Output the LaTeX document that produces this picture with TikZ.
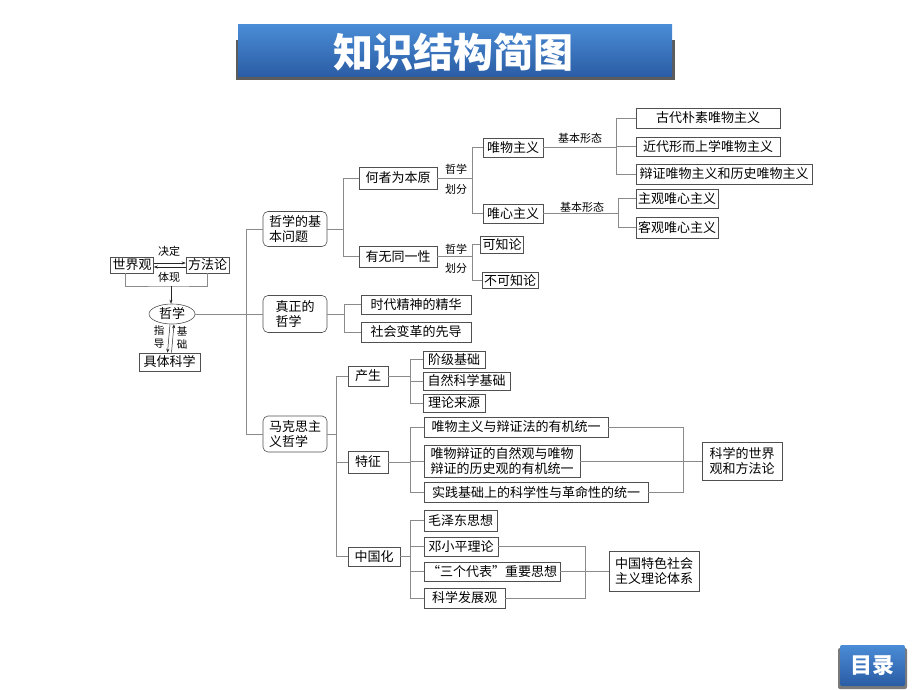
\documentclass[tikz,border=0pt]{standalone}
\usepackage{fontspec}
\newfontfamily\cjk{Noto Sans CJK SC}
\usetikzlibrary{shapes.geometric,arrows.meta,calc}
\definecolor{ln}{HTML}{8A8A8A}
\definecolor{bd}{HTML}{505050}
\definecolor{bluetop}{HTML}{4A8CD6}
\definecolor{bluebot}{HTML}{2A5CA4}
\begin{document}
\begin{tikzpicture}[x=1pt,y=-1pt,
 box/.style={draw=bd, line width=0.6pt, inner xsep=2pt, inner ysep=0pt, font=\cjk\fontsize{13}{15}\selectfont, text=black},
 rbox/.style={box, rounded corners=5pt, align=left},
 lab/.style={font=\cjk\fontsize{11}{13}\selectfont, inner sep=0pt, text=black},
 con/.style={draw=ln, line width=0.6pt},
 arr/.style={draw=black!85, line width=0.5pt, -{Stealth[length=4pt,width=3pt]}}
]
\useasboundingbox (0,0) rectangle (920,690);
\fill[white] (0,0) rectangle (920,690);

% title banner
\fill[black!75, opacity=0.85] (236,40) rectangle (675,80);
\shade[top color=bluetop, bottom color=bluebot] (238,25) rectangle (672,77);
\node[font=\cjk\bfseries\fontsize{40}{40}\selectfont, text=white] (title) at (453,52) {知识结构简图};

% menu button
\fill[black!65, opacity=0.8, rounded corners=2pt] (838,648) rectangle (907,689);
\shade[top color=bluetop, bottom color=bluebot, rounded corners=2pt] (840,645) rectangle (905,686);
\node[font=\cjk\bfseries\fontsize{22}{22}\selectfont, text=white] (menu) at (872.5,666) {目录};

% left part
\node[box, minimum width=43, minimum height=16] (sjg) at (132,265) {世界观};
\node[box, minimum width=43, minimum height=16] (ffl) at (207.5,265) {方法论};
\node[lab] (jdl) at (169,251) {决定};
\node[lab] (txl) at (169,277) {体现};
\draw[arr] ([yshift=2pt]sjg.east) -- ([yshift=2pt]ffl.west);
\draw[arr] ([yshift=-2pt]ffl.east -| ffl.west) -- ([yshift=-2pt]sjg.east);
\node[draw=bd, line width=0.6pt, ellipse, minimum width=46, minimum height=20, inner sep=0pt, font=\cjk\fontsize{13}{15}\selectfont] (zx) at (172,314) {哲学};
\coordinate (J1) at (171,286);
\draw[con] ([xshift=-7pt]sjg.south) |- (J1) -| (ffl.south);
\draw[arr] (J1) -- (zx.north -| J1);
\node[box, minimum width=61, minimum height=18] (jtkx) at (169.5,362) {具体科学};
\draw[arr] ([xshift=-2pt]zx.south) -- ([xshift=-2pt]jtkx.north);
\draw[arr] ([xshift=2pt]jtkx.north) -- ([xshift=2pt]zx.south);
\node[lab, align=center, font=\cjk\fontsize{10.5}{13}\selectfont] (zdl) at (159,337) {指\\导};
\node[lab, align=center, font=\cjk\fontsize{10.5}{13}\selectfont] (jcl) at (182,338) {基\\础};

% level 1
\node[rbox, minimum width=64, minimum height=35] (q1) at (295,229) {哲学的基\\本问题};
\node[rbox, minimum width=64, minimum height=37] (q2) at (295,314) {真正的\\哲学};
\node[rbox, minimum width=64, minimum height=36] (q3) at (295,434) {马克思主\\义哲学};
\coordinate (T) at (246,0);
\draw[con] (q1.west) -- (q1.west -| T) -- (q3.west -| T) -- (q3.west);
\draw[con] (zx.east) -- (zx.east -| q2.west);

% level 2
\node[box, minimum width=78, minimum height=22] (hz) at (398,178) {何者为本原};
\node[box, minimum width=78, minimum height=21] (yw) at (398,256.5) {有无同一性};
\node[box, minimum width=110, minimum height=19] (sd) at (416,304.5) {时代精神的精华};
\node[box, minimum width=110, minimum height=20] (sh) at (416,332) {社会变革的先导};
\node[box, minimum width=40, minimum height=20] (cs) at (368,376) {产生};
\node[box, minimum width=40, minimum height=22] (tz) at (368,462) {特征};
\node[box, minimum width=52, minimum height=19] (zg) at (374,556.5) {中国化};

\coordinate (B1) at (343,0);
\draw[con] (q1.east) -- (q1.east -| B1);
\draw[con] (hz.west) -- (hz.west -| B1) -- (yw.west -| B1) -- (yw.west);
\coordinate (B5) at (344,0);
\draw[con] (q2.east) -- (q2.east -| B5);
\draw[con] (sd.west) -- (sd.west -| B5) -- (sh.west -| B5) -- (sh.west);
\coordinate (B6) at (336,0);
\draw[con] (q3.east) -- (q3.east -| B6);
\draw[con] (cs.west) -- (cs.west -| B6) -- (zg.west -| B6) -- (zg.west);
\draw[con] (tz.west) -- (tz.west -| B6);

% level 3 (top)
\node[box, minimum width=60, minimum height=19] (wm) at (513,147.5) {唯物主义};
\node[box, minimum width=60, minimum height=19] (wx) at (513,213.5) {唯心主义};
\node[box, minimum width=40, minimum height=17] (kz) at (502,244.5) {可知论};
\node[box, minimum width=55, minimum height=16] (bk) at (510,280.5) {不可知论};
\coordinate (B2) at (472,0);
\draw[con] (hz.east) -- (hz.east -| B2);
\draw[con] (wm.west) -- (wm.west -| B2) -- (wx.west -| B2) -- (wx.west);
\draw[con] (yw.east) -- (yw.east -| B2);
\draw[con] (kz.west) -- (kz.west -| B2) -- (bk.west -| B2) -- (bk.west);
\node[lab] (zx1) at (456,169) {哲学};
\node[lab] (hf1) at (456,189) {划分};
\node[lab] (zx2) at (456,249) {哲学};
\node[lab] (hf2) at (456,268) {划分};

% level 4
\node[box, minimum width=144, minimum height=20] (gd) at (708,118) {古代朴素唯物主义};
\node[box, minimum width=144, minimum height=19] (jd2) at (708,146.5) {近代形而上学唯物主义};
\node[box, minimum width=176, minimum height=20] (bz) at (724,174) {辩证唯物主义和历史唯物主义};
\node[box, minimum width=82, minimum height=19] (zgwx) at (677,198.5) {主观唯心主义};
\node[box, minimum width=82, minimum height=21] (kgwx) at (677,227.5) {客观唯心主义};
\coordinate (B3) at (616,0);
\draw[con] (wm.east) -- (wm.east -| B3);
\draw[con] (gd.west) -- (gd.west -| B3) -- (bz.west -| B3) -- (bz.west);
\draw[con] (jd2.west) -- (jd2.west -| B3);
\coordinate (B4) at (618,0);
\draw[con] (wx.east) -- (wx.east -| B4);
\draw[con] (zgwx.west) -- (zgwx.west -| B4) -- (kgwx.west -| B4) -- (kgwx.west);
\node[lab] (jb1) at (580,138) {基本形态};
\node[lab] (jb2) at (582,207) {基本形态};

% Marx branch
\node[box, minimum width=62, minimum height=17] (jj) at (454,359.5) {阶级基础};
\node[box, minimum width=87, minimum height=18] (zr) at (466.5,381) {自然科学基础};
\node[box, minimum width=62, minimum height=18] (ll) at (454,403) {理论来源};
\coordinate (B7) at (410,0);
\draw[con] (cs.east) -- (cs.east -| B7);
\draw[con] (jj.west) -- (jj.west -| B7) -- (ll.west -| B7) -- (ll.west);
\draw[con] (zr.west) -- (zr.west -| B7);

\node[box, minimum width=184, minimum height=20] (m1) at (516,427) {唯物主义与辩证法的有机统一};
\node[box, minimum width=156, minimum height=32, align=left] (m2) at (502,461.5) {唯物辩证的自然观与唯物\\辩证的历史观的有机统一};
\node[box, minimum width=224, minimum height=20] (m3) at (536,492) {实践基础上的科学性与革命性的统一};
\node[box, minimum width=80, minimum height=38, align=left] (kxsj) at (742,461.5) {科学的世界\\观和方法论};
\draw[con] (tz.east) -- (tz.east -| B7);
\draw[con] (m1.west) -- (m1.west -| B7) -- (m3.west -| B7) -- (m3.west);
\draw[con] (m2.west) -- (m2.west -| B7);
\coordinate (B8) at (683,0);
\draw[con] (m1.east) -- (m1.east -| B8) -- (m3.east -| B8) -- (m3.east);
\draw[con] (m2.east) -- (kxsj.west);

\node[box, minimum width=73, minimum height=21] (mz) at (460.5,520.5) {毛泽东思想};
\node[box, minimum width=74, minimum height=19] (dx) at (461,546.5) {邓小平理论};
\node[box, minimum width=136, minimum height=19] (sg) at (492,571.5) {“三个代表”重要思想};
\node[box, minimum width=81, minimum height=20] (kf) at (464.5,598) {科学发展观};
\node[box, minimum width=90, minimum height=40, align=left] (zgts) at (654,571.5) {中国特色社会\\主义理论体系};
\draw[con] (zg.east) -- (zg.east -| B7);
\draw[con] (mz.west) -- (mz.west -| B7) -- (kf.west -| B7) -- (kf.west);
\draw[con] (dx.west) -- (dx.west -| B7);
\draw[con] (sg.west) -- (sg.west -| B7);
\coordinate (B9) at (585,0);
\draw[con] (dx.east) -- (dx.east -| B9) -- (kf.east -| B9) -- (kf.east);
\draw[con] (sg.east) -- (zgts.west);
\end{tikzpicture}
\end{document}
